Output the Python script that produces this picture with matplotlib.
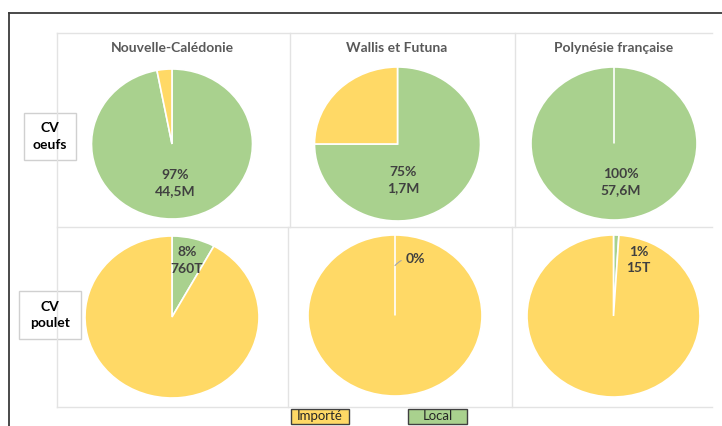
import matplotlib.pyplot as plt
from matplotlib.patches import Rectangle

# data
territories = ['Nouvelle-Calédonie', 'Wallis et Futuna', 'Polynésie française']
row_names = ['CV\noeufs', 'CV\npoulet']
# shares in % : local / importé
oeufs_local = [97, 75, 100]
oeufs_import = [3, 25, 0]
poulet_local = [8, 0, 1]
poulet_import = [92, 100, 99]
oeufs_vol = ['44,5M', '1,7M', '57,6M']
poulet_vol = ['760T', '', '15T']
legend_names = ['Importé', 'Local']

c_imp = '#FFD966'
c_loc = '#A9D18E'
W, H = 722, 426

plt.rcParams['font.family'] = ['Lato', 'DejaVu Sans']
fig = plt.figure(figsize=(W / 100, H / 100), dpi=100)

# background axes in pixel coords for frame, grid, boxes
bg = fig.add_axes([0, 0, 1, 1])
bg.set_xlim(0, W)
bg.set_ylim(H, 0)
bg.axis('off')

# black frame (top + left)
bg.plot([8.5, W], [12.5, 12.5], color='#3a3a3a', lw=1.3)
bg.plot([8.5, 8.5], [12.5, H], color='#3a3a3a', lw=1.3)

grid = '#e3e3e3'
for y in [33, 227, 407]:
    bg.plot([56.7, 712], [y, y], color=grid, lw=1)
bg.plot([56.7, 56.7], [33, 407], color=grid, lw=1)
bg.plot([290, 290], [33, 227], color=grid, lw=1)
bg.plot([288, 288], [227, 407], color=grid, lw=1)
bg.plot([515, 515], [33, 227], color=grid, lw=1)
bg.plot([512, 512], [227, 407], color=grid, lw=1)

# column titles
for x, name in zip([172.7, 397, 614], territories):
    bg.text(x, 48, name, ha='center', va='center', fontsize=10,
            fontweight='bold', color='#595959')

# row label boxes
for (x0, x1, y0, y1), name in zip([(24, 76, 113, 160), (19, 80.7, 291, 339)], row_names):
    bg.add_patch(Rectangle((x0, y0), x1 - x0, y1 - y0, facecolor='white',
                           edgecolor='#d0d0d0', lw=1))
    bg.text((x0 + x1) / 2, (y0 + y1) / 2, name, ha='center', va='center',
            fontsize=10, fontweight='bold', color='black', linespacing=1.45)

# legend boxes
for (x0, x1), name, col in zip([(291, 349), (408, 467)], legend_names, [c_imp, c_loc]):
    bg.add_patch(Rectangle((x0, 409), x1 - x0, 15, facecolor=col,
                           edgecolor='#404040', lw=1))
    bg.text((x0 + x1) / 2, 416.5, name, ha='center', va='center', fontsize=9.5,
            color='#262626')

# pie geometry in pixels: center x, center y, rx, ry
geo_top = [(172, 144, 80.5, 75), (397.5, 144, 83, 77), (614, 143.5, 83, 76.5)]
geo_bot = [(172, 317, 87, 81), (395, 315.5, 87, 80.5), (613.5, 316, 86.5, 81)]
lab_top = [(0.04, -0.52), (0.07, -0.47), (0.08, -0.50)]
lab_bot = [(0.17, 0.70), (0.23, 0.70), (0.29, 0.69)]


def add_pie(g, local, imp, label, lpos, leader=False):
    cx, cy, rx, ry = g
    ax = fig.add_axes([(cx - rx) / W, (H - cy - ry) / H, 2 * rx / W, 2 * ry / H])
    wedges, _ = ax.pie([local, imp], colors=[c_loc, c_imp], startangle=90,
                       counterclock=False, radius=1,
                       wedgeprops=dict(edgecolor='white', linewidth=1.2))
    # keep the white boundary of an empty slice visible
    for w, v in zip(wedges, [local, imp]):
        if v == 0:
            w.set_zorder(5)
    ax.set_aspect('auto')
    ax.set_xlim(-1, 1)
    ax.set_ylim(-1, 1)
    ax.axis('off')
    if leader:
        ax.annotate(label, xy=(0.0, 0.62), xytext=lpos, ha='center', va='center',
                    fontsize=10, fontweight='bold', color='#404040', zorder=6,
                    arrowprops=dict(arrowstyle='-', color='#a6a6a6', lw=0.8,
                                    shrinkA=1, shrinkB=0,
                                    connectionstyle='arc3,rad=0.3'))
    else:
        ax.text(lpos[0], lpos[1], label, ha='center', va='center', fontsize=10,
                fontweight='bold', color='#404040', linespacing=1.45)


for i in range(3):
    add_pie(geo_top[i], oeufs_local[i], oeufs_import[i],
            '{}%\n{}'.format(oeufs_local[i], oeufs_vol[i]), lab_top[i])
    txt = '{}%'.format(poulet_local[i])
    if poulet_vol[i]:
        txt += '\n' + poulet_vol[i]
    add_pie(geo_bot[i], poulet_local[i], poulet_import[i], txt, lab_bot[i],
            leader=(poulet_local[i] == 0))

fig.savefig('out.png', dpi=100, facecolor='white')
